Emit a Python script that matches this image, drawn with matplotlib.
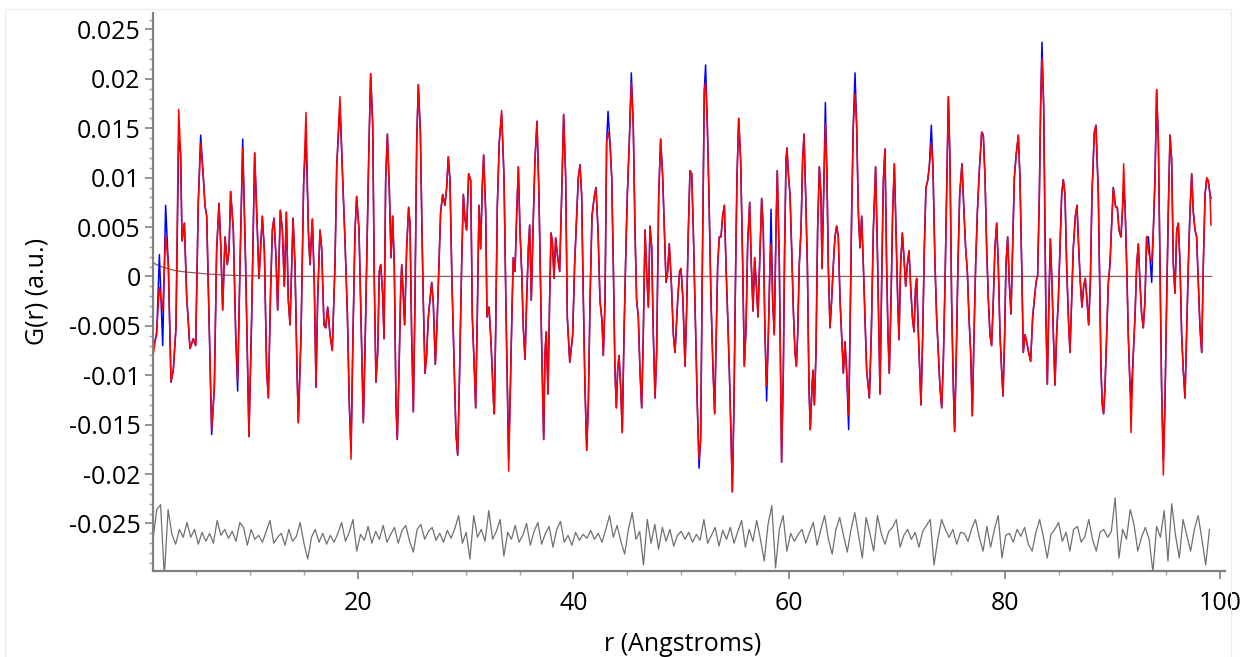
import numpy as np
import matplotlib
matplotlib.use("Agg")
import matplotlib.pyplot as plt
from matplotlib.patches import Rectangle
from matplotlib.ticker import MultipleLocator, FuncFormatter

plt.rcParams["font.family"] = ["Open Sans", "DejaVu Sans"]

r_obs = [
    1.05, 1.34, 1.59, 1.90, 2.17, 2.42, 2.67, 2.88, 3.13, 3.38, 3.56, 3.69, 3.91, 4.12, 4.43, 4.74, 4.96,
    5.20, 5.42, 5.67, 5.82, 5.98, 6.16, 6.44, 6.69, 6.90, 7.12, 7.28, 7.46, 7.68, 7.89, 8.05, 8.20, 8.45,
    8.67, 8.85, 9.07, 9.32, 9.59, 9.90, 10.15, 10.43, 10.83, 11.14, 11.33, 11.54, 11.70, 11.91, 12.07,
    12.22, 12.41, 12.56, 12.81, 13.00, 13.18, 13.37, 13.55, 13.71, 13.99, 14.17, 14.36, 14.48, 14.73,
    14.97, 15.19, 15.41, 15.56, 15.78, 15.96, 16.12, 16.27, 16.49, 16.64, 16.86, 17.02, 17.20, 17.42,
    17.63, 17.88, 18.04, 18.34, 18.59, 18.81, 19.03, 19.21, 19.37, 19.55, 19.74, 19.89, 20.11, 20.36,
    20.51, 20.66, 20.88, 21.03, 21.19, 21.38, 21.53, 21.68, 21.84, 21.99, 22.12, 22.30, 22.43, 22.58,
    22.74, 22.92, 23.08, 23.23, 23.38, 23.54, 23.66, 23.82, 23.97, 24.07, 24.22, 24.34, 24.53, 24.71,
    24.84, 24.99, 25.15, 25.30, 25.46, 25.61, 25.80, 25.95, 26.07, 26.23, 26.38, 26.54, 26.69, 26.85,
    27.00, 27.19, 27.37, 27.53, 27.68, 27.87, 28.08, 28.24, 28.39, 28.55, 28.73, 28.95, 29.10, 29.26,
    29.41, 29.63, 29.79, 29.94, 30.09, 30.28, 30.47, 30.62, 30.81, 30.93, 31.08, 31.24, 31.39, 31.55,
    31.67, 31.86, 31.98, 32.17, 32.35, 32.60, 32.66, 32.78, 32.94, 33.12, 33.34, 33.56, 33.74, 33.87,
    33.99, 34.15, 34.30, 34.42, 34.58, 34.73, 34.89, 35.04, 35.20, 35.35, 35.51, 35.66, 35.82, 35.94,
    36.09, 36.25, 36.43, 36.62, 36.80, 36.99, 37.14, 37.24, 37.36, 37.48, 37.64, 37.79, 37.92, 38.04,
    38.20, 38.35, 38.54, 38.72, 38.91, 39.09, 39.28, 39.43, 39.66, 39.93, 40.11, 40.30, 40.45, 40.61,
    40.76, 40.92, 41.07, 41.23, 41.38, 41.54, 41.72, 41.91, 42.09, 42.28, 42.46, 42.65, 42.77, 42.93,
    43.08, 43.21, 43.39, 43.55, 43.70, 43.85, 43.98, 44.10, 44.23, 44.38, 44.53, 44.69, 44.87, 45.00,
    45.18, 45.37, 45.55, 45.71, 45.86, 46.02, 46.17, 46.33, 46.48, 46.64, 46.79, 46.95, 47.10, 47.26,
    47.41, 47.57, 47.72, 47.91, 48.09, 48.28, 48.43, 48.59, 48.74, 48.89, 49.08, 49.27, 49.42, 49.67,
    49.85, 49.98, 50.16, 50.35, 50.50, 50.66, 50.81, 50.97, 51.12, 51.34, 51.49, 51.65, 51.80, 51.96,
    52.14, 52.26, 52.42, 52.57, 52.76, 52.95, 53.10, 53.25, 53.38, 53.53, 53.69, 53.84, 54.00, 54.15,
    54.31, 54.46, 54.61, 54.74, 54.89, 55.05, 55.17, 55.33, 55.51, 55.70, 55.85, 56.01, 56.16, 56.35,
    56.50, 56.66, 56.81, 56.97, 57.12, 57.27, 57.46, 57.61, 57.77, 57.92, 58.08, 58.23, 58.33, 58.48,
    58.63, 58.79, 58.91, 59.10, 59.31, 59.47, 59.59, 59.72, 59.81, 59.96, 60.09, 60.24, 60.40, 60.55,
    60.68, 60.80, 60.95, 61.11, 61.26, 61.39, 61.54, 61.70, 61.85, 61.97, 62.13, 62.22, 62.35, 62.50,
    62.65, 62.81, 62.96, 63.06, 63.21, 63.37, 63.52, 63.64, 63.80, 63.95, 64.11, 64.26, 64.42, 64.57,
    64.73, 64.88, 65.04, 65.19, 65.34, 65.53, 65.65, 65.81, 65.96, 66.12, 66.27, 66.43, 66.58, 66.74,
    66.89, 67.04, 67.20, 67.45, 67.63, 67.82, 68.03, 68.19, 68.34, 68.44, 68.59, 68.75, 68.90, 69.05,
    69.18, 69.30, 69.46, 69.61, 69.77, 69.92, 70.08, 70.20, 70.35, 70.51, 70.66, 70.82, 70.97, 71.13,
    71.28, 71.44, 71.59, 71.74, 71.84, 72.00, 72.12, 72.24, 72.40, 72.55, 72.70, 72.86, 73.01, 73.20,
    73.35, 73.54, 73.69, 73.85, 74.00, 74.16, 74.31, 74.47, 74.62, 74.78, 74.93, 75.08, 75.24, 75.36,
    75.52, 75.67, 75.83, 76.04, 76.23, 76.38, 76.54, 76.69, 76.85, 77.00, 77.16, 77.31, 77.47, 77.65,
    77.87, 78.02, 78.18, 78.33, 78.49, 78.64, 78.79, 78.95, 79.10, 79.26, 79.41, 79.57, 79.72, 79.85,
    80.00, 80.12, 80.28, 80.43, 80.59, 80.74, 80.90, 81.05, 81.27, 81.42, 81.58, 81.73, 81.89, 82.04,
    82.23, 82.41, 82.60, 82.75, 82.91, 83.06, 83.22, 83.34, 83.46, 83.62, 83.74, 83.83, 83.96, 84.11,
    84.24, 84.39, 84.52, 84.67, 84.82, 84.98, 85.13, 85.29, 85.44, 85.60, 85.75, 85.91, 86.06, 86.22,
    86.37, 86.56, 86.71, 86.87, 87.02, 87.17, 87.33, 87.48, 87.64, 87.79, 87.95, 88.10, 88.32, 88.47,
    88.69, 88.84, 88.94, 89.06, 89.18, 89.31, 89.46, 89.62, 89.77, 89.93, 90.08, 90.30, 90.45, 90.61,
    90.79, 90.92, 91.04, 91.16, 91.32, 91.47, 91.63, 91.72, 91.94, 92.09, 92.25, 92.40, 92.55, 92.71,
    92.86, 93.02, 93.17, 93.33, 93.48, 93.64, 93.79, 93.95, 94.10, 94.26, 94.41, 94.56, 94.72, 94.87,
    95.03, 95.18, 95.34, 95.49, 95.65, 95.80, 95.96, 96.11, 96.27, 96.42, 96.57, 96.73, 96.88, 97.04,
    97.19, 97.35, 97.50, 97.66, 97.81, 97.97, 98.12, 98.28, 98.43, 98.59, 98.74, 98.89, 99.05, 99.14,
]
g_obs = [
    -7.0, -5.9, 2.2, -7.0, 7.2, 1.2, -10.7, -9.5, -5.2, 13.9, 12.5, 3.6, 5.4, -2.0, -7.3, -6.3, -7.0,
    7.5, 14.3, 10.0, 7.2, 6.1, -2.4, -16.0, -11.2, 2.6, 7.4, 3.3, -3.4, 4.0, 1.2, 2.6, 8.6, 4.7,
    -5.9, -11.6, 1.2, 13.9, 1.2, -16.2, -4.1, 12.5, -0.2, 6.1, 2.6, -9.5, -12.3, -1.3, 4.7,
    5.9, 1.9, -3.4, 6.7, 4.7, -1.0, 6.5, -2.4, -4.9, 5.9, 1.2, -9.5, -14.8, -5.9,
    9.3, 14.3, 4.7, 1.2, 5.8, -0.6, -11.2, -2.4, 4.7, 2.9, -4.9, -5.2, -3.1, -5.9,
    -7.5, 1.2, 11.1, 17.3, 10.0, 3.6, -3.8, -13.0, -17.5, -5.9, 4.7, 8.1, 4.7, -7.7,
    -14.8, -7.7, 4.7, 13.2, 20.5, 15.3, -0.6, -10.7, -7.7, 0.5, 1.2, -1.7, -6.3, 9.7,
    14.4, 8.9, 1.9, 6.1, 1.2, -13.0, -16.5, -9.5, -1.7, 1.2, -2.0, -4.9, 2.9, 7.0,
    5.4, -5.9, -13.7, -2.4, 13.6, 19.4, 14.6, 4.7, -2.4, -9.8, -8.0, -4.1, -2.4, -0.6,
    -2.7, -8.9, -4.1, 1.2, 6.5, 8.3, 7.2, 9.0, 12.1, 9.7, -0.6, -9.5, -15.8, -18.1,
    -11.2, 1.2, 8.3, 5.8, 4.7, 10.4, 9.7, -4.1, -9.5, -13.3, -4.1, 7.2, 2.8, 9.3,
    12.3, 6.5, -4.1, -3.1, -6.6, -13.0, -13.9, -5.9, 7.2, 13.6, 16.4, 10.0, -3.1, -11.2,
    -18.5, -11.2, -3.4, 1.9, 0.5, 6.1, 11.1, 4.7, 0.5, -5.2, -8.4, -2.4, 2.9, 5.2,
    -2.4, 4.7, 11.8, 15.7, 8.3, -3.4, -11.6, -16.5, -7.7, -5.6, -11.9, -2.4, 4.4, 3.6,
    -0.2, 3.9, 1.9, 0.5, 8.3, 16.4, 10.0, -4.1, -8.7, -5.9, 1.2, 6.1, 10.0, 11.3,
    8.3, -2.4, -11.2, -17.6, -13.0, -2.4, 6.1, 7.9, 9.0, 4.7, -2.4, -4.5, -8.0, -2.4,
    13.6, 16.7, 13.6, 10.0, 1.2, -9.5, -13.3, -9.5, -8.0, -11.2, -15.8, -5.9, 2.9, 8.3,
    13.6, 20.6, 15.3, 4.7, -2.4, -4.1, -9.5, -13.3, -5.9, 4.7, 0.5, -3.1, 5.1, 2.9,
    -5.9, -12.3, -7.7, 8.3, 13.9, 10.0, 4.7, -0.6, 0.5, 3.3, -0.6, -5.9, -7.7, -2.4,
    0.5, 0.8, -2.4, -9.1, -3.4, 4.7, 10.7, 10.4, 4.7, -5.9, -13.0, -19.4, -16.5, 1.2,
    18.9, 21.4, 15.3, 8.3, -2.4, -9.5, -13.9, -5.9, 1.2, 4.0, 4.0, 6.1, 7.2, 1.2,
    -4.1, -9.5, -15.8, -21.8, -13.0, 1.2, 10.0, 16.0, 11.8, 1.2, -9.1, -5.2, 3.3, 7.5,
    1.2, -3.5, 1.9, -1.0, -4.1, 1.2, 7.9, 4.7, -5.9, -12.6, -5.9, 1.2, 6.8, -2.4,
    -5.9, 4.7, 10.7, 1.2, -18.8, -9.5, 2.9, 11.8, 13.0, 10.0, 8.3, 2.9, -3.4, -7.7,
    -9.1, -5.9, 1.2, 4.7, 11.8, 14.4, 8.3, 1.2, -11.2, -15.5, -11.2, -9.5, -13.0, -7.7,
    4.7, 11.1, 8.3, 0.8, 8.3, 17.6, 10.0, 1.2, -5.2, -2.4, 1.2, 4.0, 5.1, 4.0,
    -2.4, -5.9, -9.8, -6.6, -9.5, -15.5, -5.9, 6.5, 15.3, 20.6, 15.3, 6.5, 2.9, 6.1,
    1.2, -4.1, -9.5, -12.3, -5.9, 4.7, 11.1, 2.9, -5.9, -11.9, -0.6, 9.7, 12.9, 1.2,
    -5.9, -9.8, -2.4, 6.5, 11.4, 4.7, -2.4, -6.4, 1.2, 4.4, 1.9, -1.0, 1.2, 2.6,
    -1.0, -4.1, -5.6, -1.0, -0.2, -5.9, -9.5, -13.0, -5.9, 2.9, 9.0, 9.7, 11.1, 15.3,
    11.1, 1.2, -4.1, -7.7, -11.2, -13.3, -8.7, -0.6, 8.3, 18.2, 11.8, -2.4, -11.2, -15.7,
    -7.7, 1.2, 8.3, 11.4, 6.5, 2.9, 0.5, -4.1, -7.7, -14.1, -5.9, 1.2, 6.5, 10.7,
    14.6, 14.3, 10.0, 2.9, -2.4, -5.9, -7.0, -2.4, 2.9, 5.4, 1.2, -5.9, -9.5, -12.1,
    -5.9, 1.2, 4.0, -0.6, -3.8, 2.9, 10.0, 12.1, 14.3, 10.0, 1.2, -7.7, -5.9, -6.6,
    -7.7, -8.6, -4.1, -2.4, -0.6, 0.1, 8.3, 17.3, 23.7, 17.3, 4.7, -4.1, -10.9, -2.4,
    3.8, -0.6, -5.9, -11.0, -5.9, -2.4, 2.9, 8.3, 9.8, 8.3, 1.2, -4.1, -7.7, -2.4,
    2.9, 6.1, 7.2, 2.9, -0.6, -3.1, -1.0, -0.2, -2.4, -4.9, -0.6, 8.3, 14.6, 15.3,
    8.3, -2.4, -9.5, -13.0, -13.9, -11.2, -5.9, -0.6, 1.2, 5.4, 9.0, 7.0, 7.0, 4.7,
    4.0, 6.5, 8.6, 7.5, 1.2, -5.9, -11.2, -12.3, -7.7, -4.1, 1.2, 3.3, -0.6, -3.8,
    -5.2, -2.4, 4.0, 4.0, 1.9, -0.6, 4.7, 10.0, 18.9, 13.6, 1.2, -11.2, -18.5, -13.0,
    -2.4, 6.5, 14.3, 11.8, 1.2, -1.7, 4.7, 5.4, 1.2, -5.9, -9.5, -12.3, -5.9, 1.2,
    6.5, 10.4, 6.5, 4.7, 4.0, -0.6, -5.2, -7.7, 1.2, 8.3, 9.8, 9.7, 8.3, 7.9,
]

# calculated G(r): same as observed except where the red line visibly departs
r_calc_fix = [1.05, 1.34, 1.59, 1.90, 2.17, 3.38, 5.42, 6.44, 8.85, 9.32, 15.19, 18.34, 19.37,
              33.34, 33.99, 43.21, 45.37, 51.65, 52.26, 57.92, 58.33, 63.37, 65.53, 66.12,
              73.20, 83.46, 91.04, 91.72, 93.33, 93.64, 94.72, 98.74, 99.14]
g_calc_fix = [-7.7, -5.5, -1.1, -3.4, 4.2, 16.9, 13.5, -15.5, -10.5, 13.0, 16.6, 18.2, -18.5,
              16.8, -19.7, 14.6, 19.6, -18.5, 19.6, -11.0, 3.3, 15.5, -14.0, 18.5,
              13.5, 22.1, 11.4, -15.8, 2.6, 1.5, -20.1, 10.0, 5.2]

# difference curve as read, sampled every 0.35 A from r = 1.0 (units of 1e-3)
r_diff_start, r_diff_step = 1.0, 0.35
g_diff = [
    -26.0, -23.0, -22.5, -29.7, -23.0, -25.5, -26.5, -25.0, -25.8, -24.3, -25.8, -25.0, -26.5, -25.3,
    -26.2, -25.4, -26.4, -24.1, -25.6, -25.0, -25.9, -25.2, -26.2, -24.3, -24.8, -26.6, -25.0, -26.0,
    -25.6, -26.3, -25.2, -24.1, -26.4, -25.8, -25.4, -26.6, -25.0, -26.2, -25.7, -24.3, -26.4, -28.0,
    -25.8, -25.0, -26.3, -25.4, -26.5, -25.6, -26.3, -25.4, -24.3, -26.2, -25.3, -24.0, -27.2, -25.5,
    -26.1, -24.7, -26.4, -25.2, -26.0, -24.6, -26.3, -25.5, -24.8, -26.4, -25.1, -24.6, -26.2, -27.3,
    -25.0, -24.5, -26.0, -25.2, -24.8, -26.1, -25.4, -26.3, -25.1, -25.9, -24.9, -23.6, -26.4, -25.3,
    -28.0, -23.6, -25.8, -25.0, -26.2, -23.1, -26.0, -25.2, -24.0, -27.7, -25.3, -26.0, -24.6, -26.3,
    -25.6, -24.4, -26.6, -25.2, -24.3, -26.5, -25.4, -24.7, -26.8, -25.0, -24.2, -26.3, -25.6, -26.6,
    -25.3, -26.1, -25.5, -25.9, -25.1, -26.0, -25.4, -26.3, -25.0, -23.6, -25.8, -24.6, -26.2, -27.5,
    -25.0, -23.3, -26.0, -25.2, -28.6, -24.0, -26.4, -24.5, -27.0, -24.8, -26.2, -25.0, -26.7, -25.6,
    -25.2, -26.0, -25.3, -26.3, -25.5, -26.1, -24.0, -26.4, -25.6, -24.8, -26.7, -25.1, -26.0, -24.8,
    -26.4, -25.2, -24.1, -26.8, -25.0, -26.2, -24.1, -26.0, -28.2, -24.5, -22.6, -28.9, -25.0, -23.6,
    -27.2, -25.4, -26.2, -25.5, -25.0, -26.4, -25.3, -24.3, -26.6, -25.0, -23.6, -26.0, -27.5, -25.0,
    -23.8, -25.6, -27.3, -25.0, -23.3, -25.6, -27.9, -23.8, -25.4, -27.2, -23.6, -25.4, -26.5, -25.2,
    -24.8, -24.0, -26.8, -25.6, -25.0, -26.0, -25.3, -26.8, -25.2, -24.6, -24.0, -28.6, -26.0, -24.0,
    -25.0, -25.8, -25.0, -26.5, -25.3, -25.4, -26.2, -24.9, -24.0, -25.8, -27.2, -24.7, -26.8, -25.0,
    -23.6, -27.9, -25.6, -25.4, -26.3, -25.0, -25.7, -24.8, -26.5, -27.2, -25.3, -24.0, -25.8, -27.9,
    -25.5, -25.0, -24.3, -26.2, -25.3, -27.2, -25.0, -24.7, -26.3, -25.7, -24.0, -26.0, -27.2, -25.3,
    -25.0, -25.8, -25.2, -21.8, -27.9, -25.0, -26.0, -23.0, -24.5, -27.2, -25.8, -24.8, -26.0, -29.3,
    -24.7, -25.8, -23.1, -28.2, -22.4, -25.6, -27.9, -24.0, -25.6, -27.2, -25.0, -23.6, -26.0, -28.6,
    -25.0,
]
diff_shift = -0.6  # correction of the level the difference curve was read at

# baseline drawn along zero
r_base = [1.0, 1.5, 2.0, 3.0, 4.0, 5.0, 6.0, 8.0, 10.0, 15.0, 99.2]
g_base = [1.4, 1.1, 0.9, 0.6, 0.45, 0.35, 0.25, 0.12, 0.06, 0.0, 0.0]

r = np.array(r_obs)
obs = np.array(g_obs) * 1e-3
calc = obs.copy()
for rc, gc in zip(r_calc_fix, g_calc_fix):
    calc[np.argmin(np.abs(r - rc))] = gc * 1e-3
r_diff = r_diff_start + r_diff_step * np.arange(len(g_diff))
diff = (np.array(g_diff) + diff_shift) * 1e-3

fig = plt.figure(figsize=(12.41, 6.57), dpi=100)
ax = fig.add_axes([0.1233, 0.1315, 0.8638, 0.8493])

# faint frame around the picture (open at the bottom edge)
fig.patches.append(Rectangle((0.004, -0.05), 0.988, 1.036, transform=fig.transFigure,
                             fill=False, edgecolor="#ececec", linewidth=0.8))

ax.plot(r_base, np.array(g_base) * 1e-3, color="#8a5c5c", linewidth=0.9)
ax.plot(r_diff, diff, color="#707070", linewidth=0.9)
ax.plot(r, obs, color="#0000ff", linewidth=1.1)
ax.plot(r, calc, color="#ff0000", linewidth=1.1)

ax.set_xlim(1.0, 100.44)
ax.set_ylim(-0.02977, 0.0267)

ax.xaxis.set_major_locator(MultipleLocator(20))
ax.xaxis.set_minor_locator(MultipleLocator(5))
ax.yaxis.set_major_locator(MultipleLocator(0.005))
ax.yaxis.set_minor_locator(MultipleLocator(0.001))
ax.yaxis.set_major_formatter(FuncFormatter(lambda v, p: "0" if abs(v) < 1e-9 else "%g" % v))

for side in ["top", "right"]:
    ax.spines[side].set_visible(False)
for side in ["left", "bottom"]:
    ax.spines[side].set_color("#808080")
    ax.spines[side].set_linewidth(1.6)

ax.tick_params(which="major", length=6, width=1.2, color="#808080", labelsize=18, labelcolor="black")
ax.tick_params(which="minor", length=3, width=1.0, color="#a0a0a0")
ax.tick_params(axis="y", pad=3)
ax.tick_params(axis="x", pad=9)

ax.set_xlabel("r (Angstroms)", fontsize=18)
ax.set_ylabel("G(r) (a.u.)", fontsize=18)
ax.xaxis.set_label_coords(0.494, -0.11)
ax.yaxis.set_label_coords(-0.097, 0.5)

fig.savefig("out.png", dpi=100)
